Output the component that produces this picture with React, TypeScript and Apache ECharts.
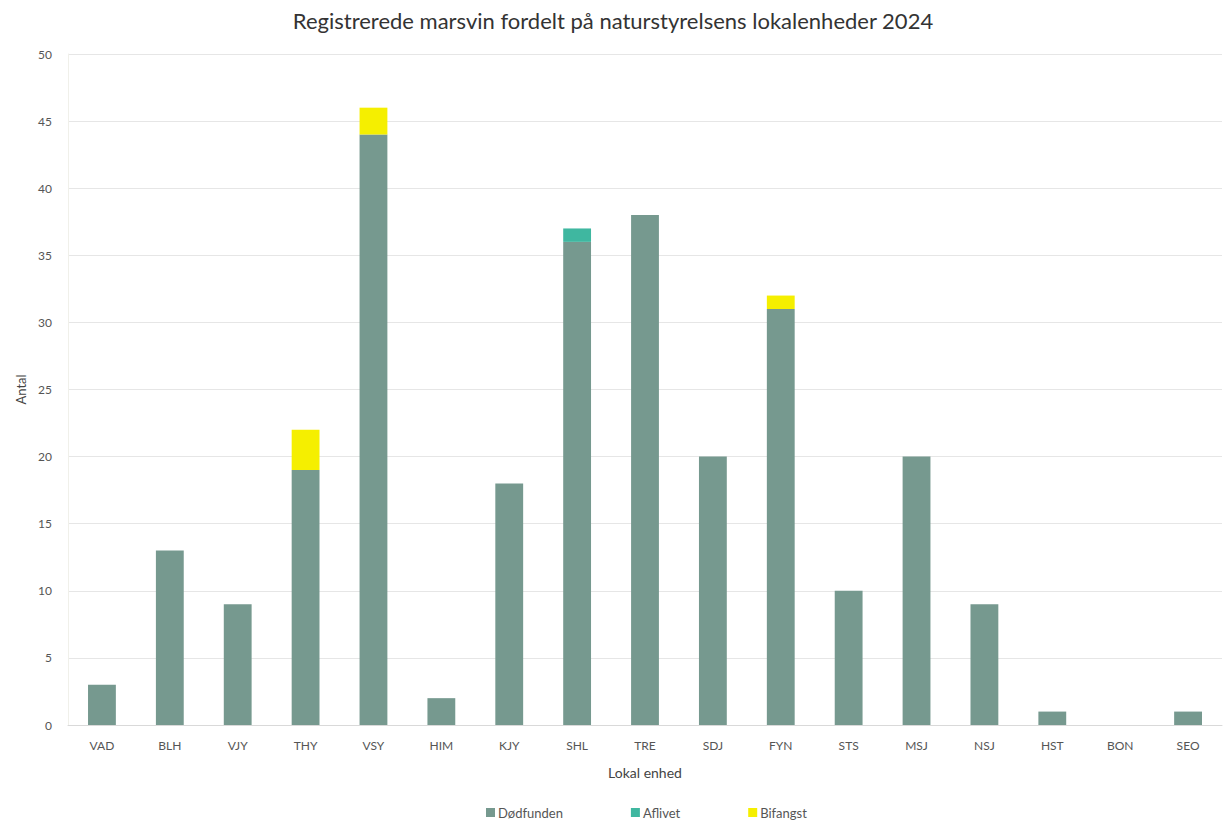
import React, { useEffect, useRef } from "react";
import * as echarts from "echarts";

const categories = ["VAD", "BLH", "VJY", "THY", "VSY", "HIM", "KJY", "SHL", "TRE", "SDJ", "FYN", "STS", "MSJ", "NSJ", "HST", "BON", "SEO"];
const dodfunden = [3, 13, 9, 19, 44, 2, 18, 36, 38, 20, 31, 10, 20, 9, 1, 0, 1];
const aflivet = [0, 0, 0, 0, 0, 0, 0, 1, 0, 0, 0, 0, 0, 0, 0, 0, 0];
const bifangst = [0, 0, 0, 3, 2, 0, 0, 0, 0, 0, 1, 0, 0, 0, 0, 0, 0];

const FONT = "Lato, 'Open Sans', sans-serif";

export default function App() {
  const ref = useRef<HTMLDivElement>(null);
  useEffect(() => {
    if (!ref.current) return;
    const chart = echarts.init(ref.current, undefined, { renderer: "svg" });
    const mk = (name: string, data: number[], color: string) => ({
      name,
      type: "bar",
      stack: "total",
      data,
      barWidth: "41%",
      itemStyle: { color },
      emphasis: { disabled: true },
    });
    chart.setOption({
      animation: false,
      backgroundColor: "#ffffff",
      textStyle: { fontFamily: FONT },
      title: {
        text: "Registrerede marsvin fordelt på naturstyrelsens lokalenheder 2024",
        left: "center",
        top: 4,
        textStyle: { fontFamily: FONT, fontSize: 22, fontWeight: "normal", color: "#333333" },
      },
      legend: {
        bottom: 1,
        left: 486,
        padding: 0,
        itemWidth: 9,
        itemHeight: 9,
        itemGap: 68,
        icon: "rect",
        textStyle: { fontFamily: FONT, fontSize: 13, color: "#555555", padding: [0, 0, 0, -2] },
        data: ["Dødfunden", "Aflivet", "Bifangst"],
      },
      grid: { left: 68, right: 4, top: 54, bottom: 95, containLabel: false },
      xAxis: {
        type: "category",
        data: categories,
        name: "Lokal enhed",
        nameLocation: "middle",
        nameGap: 40,
        nameTextStyle: { fontFamily: FONT, fontSize: 14, color: "#444444" },
        axisLine: { lineStyle: { color: "#d9d9d9" } },
        axisTick: { show: false },
        axisLabel: { fontFamily: FONT, fontSize: 12, color: "#555555", margin: 14 },
      },
      yAxis: {
        type: "value",
        min: 0,
        max: 50,
        interval: 5,
        name: "Antal",
        nameLocation: "middle",
        nameGap: 38,
        nameTextStyle: { fontFamily: FONT, fontSize: 13, color: "#444444" },
        axisLine: { show: true, lineStyle: { color: "#f0f0ea" } },
        axisTick: { show: false },
        axisLabel: { fontFamily: FONT, fontSize: 12, color: "#555555", margin: 16 },
        splitLine: { lineStyle: { color: "#e6e6e6" } },
      },
      series: [
        mk("Dødfunden", dodfunden, "#76998f"),
        mk("Aflivet", aflivet, "#3fb7a0"),
        mk("Bifangst", bifangst, "#f5ef00"),
      ],
    });
    return () => chart.dispose();
  }, []);
  return <div ref={ref} style={{ width: 1226, height: 820, position: "absolute", left: 0, top: 0 }} />;
}
